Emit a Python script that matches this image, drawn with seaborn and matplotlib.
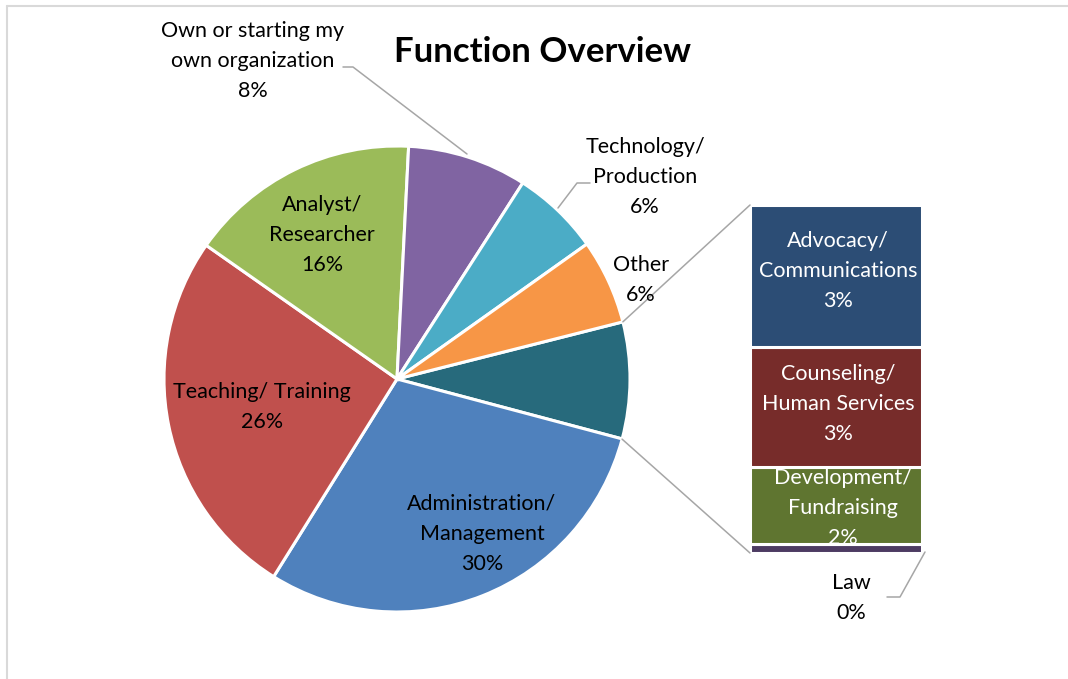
import numpy as np
import matplotlib
matplotlib.use("Agg")
import matplotlib.pyplot as plt
import seaborn as sns
from matplotlib.lines import Line2D

# ---------------- data ----------------
pie_labels = ["Administration/\nManagement", "Teaching/ Training", "Analyst/\nResearcher",
              "Own or starting my\nown organization", "Technology/\nProduction", "Other"]
pie_values = [29.8, 25.9, 16.1, 8.3, 6.1, 5.9]
pie_colors = ["#4F81BD", "#C0504D", "#9BBB59", "#8064A2", "#4BACC6", "#F79646"]

bar_labels = ["Advocacy/\nCommunications", "Counseling/\nHuman Services", "Development/\nFundraising", "Law"]
bar_values = [3.3, 2.8, 1.8, 0.2]
bar_colors = ["#2C4D75", "#772C2A", "#5F7530", "#4D3B62"]
combined_color = "#276A7C"

title = "Function Overview"

# ---------------- layout ----------------
W, H = 1068, 679
sns.set_theme(style="white")
plt.rcParams["font.family"] = ["Lato", "DejaVu Sans"]
plt.rcParams["text.color"] = "black"

fig = plt.figure(figsize=(W / 100, H / 100), dpi=100)
ax = fig.add_axes([0, 0, 1, 1])

def Y(y_img):
    return H - y_img

cx, cy, R = 397, Y(379), 233
start = 14.2

combined = sum(bar_values)
values = [combined] + pie_values
colors = [combined_color] + pie_colors
wedges, _ = ax.pie(values, colors=colors, startangle=start, counterclock=False,
                   center=(cx, cy), radius=R, frame=True,
                   wedgeprops=dict(edgecolor="white", linewidth=2.2))
ax.set_xlim(0, W)
ax.set_ylim(0, H)
ax.set_aspect("equal")
ax.axis("off")

fs = 15.5
ls = 1.65
# pie labels (centers in image pixel coords)
label_pos = [(482, 534), (262, 407), (322, 235), (253, 61), (645, 177), (641, 280)]
for lab, v, (px, py) in zip(pie_labels, pie_values, label_pos):
    ax.text(px, Y(py), f"{lab}\n{round(v)}%", ha="center", va="center",
            fontsize=fs, linespacing=ls, color="black")

# bar of pie
bx, bw = 836, 172
bar_top, bar_bot = Y(205), Y(553)
scale = (bar_top - bar_bot) / combined
order = list(range(len(bar_values)))[::-1]  # bottom to top: Law, Dev, Couns, Adv
bottom = bar_bot
for i in order:
    h = bar_values[i] * scale
    ax.bar(bx, h, width=bw, bottom=bottom, color=bar_colors[i],
           edgecolor="white", linewidth=2.2)
    bottom += h

bar_label_pos = [(838, 271), (838, 404), (843, 508)]
for i, (px, py) in enumerate(bar_label_pos):
    ax.text(px, Y(py), f"{bar_labels[i]}\n{round(bar_values[i])}%", ha="center", va="center",
            fontsize=fs, linespacing=ls, color="white")
ax.text(851, Y(598), f"{bar_labels[3]}\n{round(bar_values[3])}%", ha="center", va="center",
        fontsize=fs, linespacing=ls, color="black")

# connector lines from combined wedge to bar
gray = "#A6A6A6"
t1 = np.deg2rad(start)
t2 = np.deg2rad(start - combined / 100 * 360)
p1 = (cx + R * np.cos(t1), cy + R * np.sin(t1))
p2 = (cx + R * np.cos(t2), cy + R * np.sin(t2))
ax.plot([p1[0], bx - bw / 2], [p1[1], bar_top], color=gray, lw=1.1)
ax.plot([p2[0], bx - bw / 2], [p2[1], bar_bot], color=gray, lw=1.1)

# leader lines
ax.plot([343, 353, 467], [Y(67), Y(67), Y(154)], color=gray, lw=1.1)
ax.plot([590, 577, 558], [Y(183), Y(183), Y(208)], color=gray, lw=1.1)
ax.plot([887, 900, 925], [Y(597), Y(597), Y(552)], color=gray, lw=1.1)

# title
ax.text(542, Y(52), title, ha="center", va="center", fontsize=25, fontweight="bold",
        color="black")

# chart area border (top and left)
fig.add_artist(Line2D([7 / W, 1], [1 - 6 / H, 1 - 6 / H], color="#D9D9D9", lw=1.5))
fig.add_artist(Line2D([7 / W, 7 / W], [0, 1 - 6 / H], color="#D9D9D9", lw=1.5))

fig.savefig("out.png", dpi=100)
